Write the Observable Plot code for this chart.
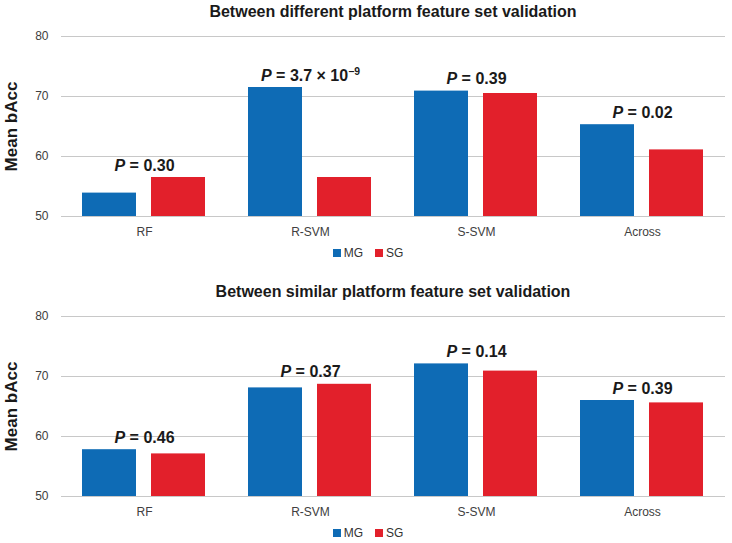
<!DOCTYPE html>
<html>
<head>
<meta charset="utf-8">
<script src="https://cdn.jsdelivr.net/npm/d3@7"></script>
<script src="https://cdn.jsdelivr.net/npm/@observablehq/plot@0.6"></script>
<style>
  html, body { margin: 0; padding: 0; background: #fff; }
  body { width: 732px; height: 543px; overflow: hidden; font-family: "Liberation Sans", Arial, sans-serif; }
  .panel { position: relative; width: 732px; height: 280px; }
  .title { position: absolute; left: 61px; width: 664px; top: 0; height: 24px; line-height: 24px;
           text-align: center; font-size: 16px; font-weight: bold; color: #1a1a1a; }
  .chart { position: absolute; left: 0; top: 0; }
  .lg { position: absolute; left: 2px; top: 245px; width: 732px; height: 16px; display: flex; justify-content: center; }
  .lg > div { font-family: "Liberation Sans", Arial, sans-serif !important; font-size: 12px !important; color: #333 !important; min-height: 0 !important; margin: 0 !important; }
  .lg span { margin-right: 12px !important; }
  .lg span:last-child { margin-right: 0 !important; }
  .lg svg { margin-right: 3px !important; }
</style>
</head>
<body>
<div id="root"></div>
<script>
const categories = ["RF", "R-SVM", "S-SVM", "Across"];
const groups = ["MG", "SG"];
const colors = ["#0E6BB5", "#E2202B"];
const yTicks = [50, 60, 70, 80];

const titles = [
  "Between different platform feature set validation",
  "Between similar platform feature set validation"
];

// Panel 1: between different platform
const diffMG = [53.9, 71.5, 70.9, 65.3];
const diffSG = [56.5, 56.5, 70.5, 61.1];
const diffP = ["0.30", "3.7 × 10^−9", "0.39", "0.02"];

// Panel 2: between similar platform
const simMG = [57.8, 68.1, 72.1, 66.0];
const simSG = [57.1, 68.7, 70.9, 65.6];
const simP = ["0.46", "0.37", "0.14", "0.39"];

const panels = [
  {title: titles[0], mg: diffMG, sg: diffSG, p: diffP},
  {title: titles[1], mg: simMG, sg: simSG, p: simP}
];

const root = document.getElementById("root");

panels.forEach((pd) => {
  const rows = [];
  categories.forEach((c, i) => {
    rows.push({cat: c, group: groups[0], value: pd.mg[i]});
    rows.push({cat: c, group: groups[1], value: pd.sg[i]});
  });
  const labels = categories.map((c, i) => ({
    cat: c, top: Math.max(pd.mg[i], pd.sg[i]), text: "P = " + pd.p[i]
  }));

  const panel = document.createElement("div");
  panel.className = "panel";
  const title = document.createElement("div");
  title.className = "title";
  title.textContent = pd.title;

  const chart = Plot.plot({
    width: 732,
    height: 246,
    marginTop: 36,
    marginBottom: 30,
    marginLeft: 61,
    marginRight: 7,
    style: {fontFamily: "'Liberation Sans', Arial, sans-serif", fontSize: "12px", color: "#404040", background: "#fff"},
    fx: {domain: categories, paddingInner: 0.253, paddingOuter: 0.1265, label: null},
    x: {domain: groups, paddingInner: 0.212, paddingOuter: 0, axis: null},
    y: {domain: [50, 80], ticks: yTicks, label: null},
    color: {domain: groups, range: colors},
    marks: [
      Plot.ruleY(yTicks, {stroke: "#c8c8c8", strokeWidth: 1.2, insetLeft: -21, insetRight: -21}),
      Plot.axisFx({anchor: "bottom", tickSize: 0, tickPadding: 11, label: null, fill: "#404040"}),
      Plot.axisY({ticks: yTicks, tickSize: 0, tickPadding: 34, label: null, fill: "#404040"}),
      Plot.axisY({ticks: [], label: "Mean bAcc", labelAnchor: "center", labelArrow: "none", labelOffset: 78,
                  fontSize: 17, fontWeight: "bold", fill: "#1a1a1a"}),
      Plot.barY(rows, {fx: "cat", x: "group", y: "value", fill: "group", clip: true}),
      Plot.text(labels, {fx: "cat", y: "top", text: "text", dy: -7, lineAnchor: "bottom",
                         fontSize: 16, fontWeight: "bold", fill: "#1a1a1a"})
    ]
  });
  chart.classList.add("chart");

  // Italic "P" and superscript exponent
  d3.select(chart).selectAll("text").each(function() {
    const t = this.textContent;
    if (!t.startsWith("P = ")) return;
    const rest = t.slice(1);
    const sel = d3.select(this);
    sel.text(null);
    sel.append("tspan").attr("font-style", "italic").text("P");
    const parts = rest.split("^");
    sel.append("tspan").text(parts[0]);
    if (parts.length > 1) {
      sel.append("tspan").attr("dy", "-0.5em").attr("font-size", "0.65em").text(parts[1]);
    }
  });

  const lg = document.createElement("div");
  lg.className = "lg";
  lg.appendChild(Plot.legend({color: {domain: groups, range: colors}, legend: "swatches", swatchSize: 8}));

  panel.appendChild(chart);
  panel.appendChild(title);
  panel.appendChild(lg);
  root.appendChild(panel);
});
</script>
</body>
</html>
